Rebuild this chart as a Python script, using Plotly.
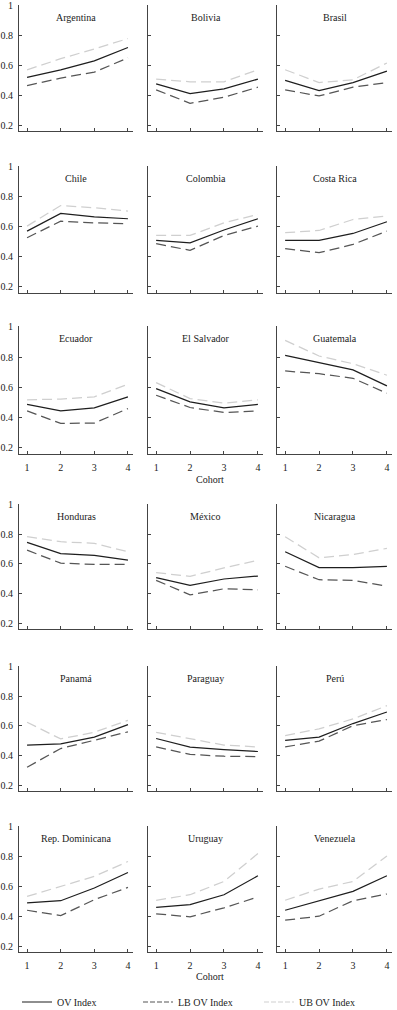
import plotly.graph_objects as go

countries = ["Argentina", "Bolivia", "Brasil",
             "Chile", "Colombia", "Costa Rica",
             "Ecuador", "El Salvador", "Guatemala",
             "Honduras", "México", "Nicaragua",
             "Panamá", "Paraguay", "Perú",
             "Rep. Dominicana", "Uruguay", "Venezuela"]
cohorts = [1, 2, 3, 4]

ov_index = [
    [0.520, 0.570, 0.630, 0.720],
    [0.476, 0.410, 0.443, 0.508],
    [0.500, 0.431, 0.485, 0.562],
    [0.572, 0.689, 0.667, 0.654],
    [0.510, 0.494, 0.579, 0.654],
    [0.510, 0.510, 0.556, 0.634],
    [0.487, 0.445, 0.465, 0.537],
    [0.592, 0.504, 0.465, 0.487],
    [0.811, 0.763, 0.715, 0.610],
    [0.745, 0.670, 0.657, 0.625],
    [0.507, 0.455, 0.498, 0.518],
    [0.682, 0.575, 0.575, 0.584],
    [0.470, 0.479, 0.524, 0.609],
    [0.515, 0.456, 0.440, 0.427],
    [0.503, 0.524, 0.616, 0.694],
    [0.489, 0.504, 0.589, 0.693],
    [0.460, 0.478, 0.544, 0.671],
    [0.440, 0.504, 0.567, 0.671],
]
lb_ov_index = [
    [0.465, 0.515, 0.555, 0.650],
    [0.436, 0.346, 0.386, 0.454],
    [0.436, 0.395, 0.454, 0.485],
    [0.528, 0.638, 0.627, 0.620],
    [0.488, 0.444, 0.543, 0.605],
    [0.455, 0.428, 0.483, 0.572],
    [0.445, 0.362, 0.364, 0.460],
    [0.548, 0.467, 0.434, 0.445],
    [0.708, 0.690, 0.660, 0.561],
    [0.693, 0.605, 0.597, 0.597],
    [0.489, 0.391, 0.432, 0.425],
    [0.584, 0.493, 0.489, 0.450],
    [0.321, 0.447, 0.503, 0.560],
    [0.458, 0.407, 0.395, 0.393],
    [0.458, 0.497, 0.602, 0.643],
    [0.440, 0.404, 0.511, 0.593],
    [0.416, 0.396, 0.456, 0.529],
    [0.373, 0.400, 0.504, 0.549],
]
ub_ov_index = [
    [0.570, 0.645, 0.710, 0.780],
    [0.508, 0.490, 0.490, 0.571],
    [0.571, 0.485, 0.503, 0.616],
    [0.605, 0.742, 0.727, 0.705],
    [0.543, 0.543, 0.627, 0.683],
    [0.561, 0.576, 0.649, 0.672],
    [0.518, 0.522, 0.537, 0.620],
    [0.631, 0.526, 0.496, 0.518],
    [0.910, 0.807, 0.756, 0.680],
    [0.784, 0.750, 0.739, 0.682],
    [0.541, 0.516, 0.573, 0.625],
    [0.784, 0.641, 0.664, 0.705],
    [0.625, 0.512, 0.557, 0.638],
    [0.557, 0.512, 0.470, 0.458],
    [0.535, 0.580, 0.647, 0.737],
    [0.533, 0.600, 0.667, 0.767],
    [0.507, 0.544, 0.633, 0.820],
    [0.507, 0.582, 0.633, 0.804],
]
y_ticks = [0.2, 0.4, 0.6, 0.8, 1.0]
y_tick_text = ["0.2", "0.4", "0.6", "0.8", "1"]
series_names = ["OV Index", "LB OV Index", "UB OV Index"]

W, H = 397, 1010
FONT = "Liberation Serif, Times New Roman, serif"
row_top = [5, 166, 326, 504, 666, 826]
row_bot = [131, 293, 454, 629, 791, 952]
col_left = [19, 148, 277]
col_right = [133, 263, 392]

styles = [
    dict(color="#1e1e1e", width=1.25, dash="solid"),
    dict(color="#555555", width=1.25, dash="10px,5px"),
    dict(color="#cfcfcf", width=1.25, dash="10px,5px"),
]
legend_styles = [
    dict(color="#1e1e1e", width=1.2, dash="solid"),
    dict(color="#555555", width=1.2, dash="5px,2px"),
    dict(color="#cfcfcf", width=1.2, dash="5px,2px"),
]

fig = go.Figure()
annotations = []
layout = {}
for i, country in enumerate(countries):
    r, c = divmod(i, 3)
    n = i + 1
    xa = "x" if n == 1 else f"x{n}"
    ya = "y" if n == 1 else f"y{n}"
    for vals, st, nm in zip([ov_index[i], lb_ov_index[i], ub_ov_index[i]], styles, series_names):
        fig.add_trace(go.Scatter(x=cohorts, y=vals, mode="lines", line=st, name=nm,
                                 showlegend=False, xaxis=xa, yaxis=ya, hoverinfo="skip"))
    show_x = r in (2, 5)
    layout["xaxis" if n == 1 else f"xaxis{n}"] = dict(
        domain=[col_left[c] / W, col_right[c] / W],
        anchor=ya, range=[0.76, 4.15], tickvals=cohorts,
        showticklabels=show_x, ticks="inside", ticklen=3, tickcolor="#444",
        showline=True, linecolor="#444", linewidth=1, showgrid=False, zeroline=False,
        tickfont=dict(family=FONT, size=10, color="#222"), ticklabelstandoff=4,
        ticklabeloverflow="allow", fixedrange=True,
    )
    layout["yaxis" if n == 1 else f"yaxis{n}"] = dict(
        domain=[1 - row_bot[r] / H, 1 - row_top[r] / H],
        anchor=xa, range=[0.16, 1.005], tickvals=y_ticks, ticktext=y_tick_text,
        showticklabels=(c == 0), ticks="inside", ticklen=3, tickcolor="#444",
        showline=True, linecolor="#444", linewidth=1, showgrid=False, zeroline=False,
        tickfont=dict(family=FONT, size=10, color="#222"), ticklabelstandoff=3,
        ticklabeloverflow="allow", fixedrange=True,
    )
    annotations.append(dict(text=country, xref=f"{xa} domain", yref=f"{ya} domain",
                            x=0.5, y=1, yshift=-12, xanchor="center", yanchor="middle",
                            showarrow=False, font=dict(family=FONT, size=10, color="#222")))

for yy in (479, 976):
    annotations.append(dict(text="Cohort", xref="paper", yref="paper", x=210 / W,
                            y=1 - yy / H, xanchor="center", yanchor="middle",
                            showarrow=False, font=dict(family=FONT, size=10, color="#222")))

for st, nm in zip(legend_styles, series_names):
    fig.add_trace(go.Scatter(x=[None], y=[None], mode="lines", line=st, name=nm,
                             showlegend=True, xaxis="x", yaxis="y"))

fig.update_layout(
    width=W, height=H, margin=dict(l=0, r=0, t=0, b=0, autoexpand=False),
    paper_bgcolor="white", plot_bgcolor="white",
    font=dict(family=FONT, size=10, color="#222"),
    annotations=annotations,
    legend=dict(orientation="h", x=17 / W, y=1 - 1002 / H, xanchor="left", yanchor="middle",
                entrywidth=76, entrywidthmode="pixels", font=dict(family=FONT, size=10, color="#222"),
                bgcolor="rgba(0,0,0,0)", tracegroupgap=0),
    **layout,
)
fig.write_html("out.html", config={"displayModeBar": False},
               post_script="document.body.style.margin='0';document.body.style.padding='0';")
